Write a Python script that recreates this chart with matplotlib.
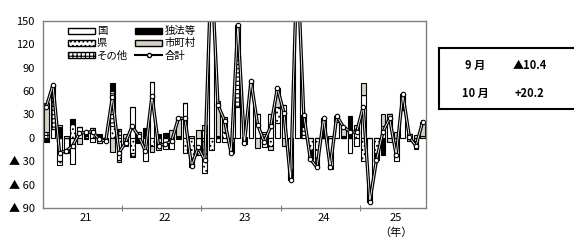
import numpy as np
import matplotlib
matplotlib.use("Agg")
import matplotlib.pyplot as plt
from matplotlib.patches import Patch
from matplotlib.lines import Line2D

plt.rcParams['font.family'] = ['Noto Sans CJK JP', 'DejaVu Sans']
plt.rcParams['hatch.linewidth'] = 0.8

# monthly contributions, Jan 21 .. Oct 25 (58 months)
kuni = [0, 12, -30, -20, -34, 14, 0, -5, -6, -3,
        0, 0, -6, 40, 8, -30, 72, -5, -8, -14,
        -2, 45, 0, -10, 10, 230, -5, -5, -5, 40,
        0, 60, 30, -12, 30, 19, 30, -40, 210, 0,
        0, 0, 0, -40, 20, 0, -20, -10, 55, -70,
        0, 15, 30, -30, 36, 5, -4, 2.2]
ken = [0, 0, -5, 0, 18, 0, 3, 10, 0, 0,
       15, -28, -5, -20, 0, 0, -10, 0, -6, 0,
       0, -20, -30, -12, -45, -15, 0, 7, 0, 0,
       0, 0, 0, 5, -10, 20, 12, 0, 0, 0,
       -15, -35, 0, 0, 8, 0, 0, 12, -30, 0,
       -20, 0, 0, 0, 0, 0, -10, 0]
sonota = [8, 50, 0, 0, 0, 0, 4, 3, 0, 0,
          45, 12, 0, -5, 0, 0, 0, 0, 0, 0,
          0, 0, 0, 0, 0, 0, 0, 0, 0, 80,
          0, 0, 0, 0, 0, 0, 0, 0, 0, 14,
          0, 0, 0, 0, 0, 0, 0, 0, 0, 0,
          0, 0, 0, 0, 0, 0, 0, 0]
dokuho = [-5, 0, 14, 0, 6, 0, -2, 0, 5, -1,
          10, 0, 0, 0, -5, 13, 0, 5, 6, 0,
          2, 0, -8, 0, 0, 0, 2, 0, -15, 0,
          -8, 5, 0, 0, 0, 0, 0, -14, 0, 15,
          -12, -3, 10, 0, 0, 2, 28, 0, 0, -12,
          -5, -22, 0, 0, 20, 0, 0, 0]
shichoson = [37, 6, 2, 3, 0, -8, 2, 0, -1, 0,
             -18, -3, 5, 0, -1, 0, -8, -10, 0, 10,
             25, 0, 2, 10, 6, 5, 45, 20, 0, 25,
             1, 8, -13, 2, -5, 25, -10, 0, 20, 0,
             0, 0, 15, 3, 0, 12, 0, 5, 15, 0,
             -4, 15, -5, 8, 0, -4, 3.6, 18]

series = [("国", kuni, "white", None),
          ("県", ken, "white", "...."),
          ("その他", sonota, "white", "++++"),
          ("独法等", dokuho, "black", None),
          ("市町村", shichoson, "#d6d2c2", None)]

years = ["21", "22", "23", "24", "25"]
months_per_year = [12, 12, 12, 12, 10]
n = len(kuni)
total = np.sum([kuni, ken, sonota, dokuho, shichoson], axis=0)

fig = plt.figure(figsize=(5.74, 2.41), dpi=100)
ax = fig.add_axes([0.075, 0.137, 0.667, 0.776])

x = np.arange(n)
pos_base = np.zeros(n)
neg_base = np.zeros(n)
for name, vals, color, hatch in series:
    v = np.array(vals, dtype=float)
    bottoms = np.where(v >= 0, pos_base, neg_base)
    ax.bar(x, v, bottom=bottoms, width=0.72, color=color, edgecolor="black",
           linewidth=0.8, hatch=hatch)
    pos_base += np.where(v > 0, v, 0)
    neg_base += np.where(v < 0, v, 0)

# total line: black outline with a thin white core
ax.plot(x, total, color="black", lw=2.4, solid_joinstyle="round")
ax.plot(x, total, color="white", lw=0.6, solid_joinstyle="round")
ax.plot(x, total, ls="none", marker="o", ms=3.2,
        mfc="white", mec="black", mew=0.8)

ax.set_xlim(-0.5, n - 0.5)
ax.set_ylim(-90, 150)
yt = np.arange(-90, 151, 30)
ax.set_yticks(yt)
ax.set_yticklabels([f"▲ {-v}" if v < 0 else str(v) for v in yt], fontsize=8)
ax.tick_params(axis="y", length=0, pad=6)

edges = np.cumsum(months_per_year)
ax.set_xticks(edges[:-1] - 0.5)
ax.set_xticklabels([])
ax.tick_params(axis="x", direction="inout", length=5, color="#808080")
start = 0
for y, m in zip(years, months_per_year):
    ax.text(start + m / 2, -0.055, y, transform=ax.get_xaxis_transform(),
            ha="center", va="center", fontsize=8)
    start += m

for s in ax.spines.values():
    s.set_color("#808080")
    s.set_linewidth(1)

handles = [Patch(facecolor="white", edgecolor="black", label="国"),
           Patch(facecolor="white", edgecolor="black", hatch="....", label="県"),
           Patch(facecolor="white", edgecolor="black", hatch="++++", label="その他"),
           Patch(facecolor="black", edgecolor="black", label="独法等"),
           Patch(facecolor="#d6d2c2", edgecolor="black", label="市町村"),
           Line2D([], [], color="black", lw=1.5, marker="o", ms=3,
                  mfc="white", mec="black", label="合計")]
ax.legend(handles=handles, ncol=2, loc="upper left", bbox_to_anchor=(0.045, 1.01),
          frameon=False, fontsize=7.5, handlelength=2.6, handleheight=0.55,
          columnspacing=0.7, labelspacing=0.2, handletextpad=0.2,
          borderaxespad=0.3)

# summary box
box = fig.add_axes([0.765, 0.548, 0.25, 0.253])
box.set_xticks([])
box.set_yticks([])
for s in box.spines.values():
    s.set_linewidth(1.5)
box.text(0.25, 0.72, "9 月", ha="center", va="center", fontsize=8, weight="bold")
box.text(0.63, 0.72, "▲10.4", ha="center", va="center", fontsize=8, weight="bold")
box.text(0.25, 0.25, "10 月", ha="center", va="center", fontsize=8, weight="bold")
box.text(0.63, 0.25, "+20.2", ha="center", va="center", fontsize=8, weight="bold")

fig.text(0.69, 0.035, "（年）", fontsize=8, ha="center", va="center")

fig.savefig("out.png", dpi=100)
